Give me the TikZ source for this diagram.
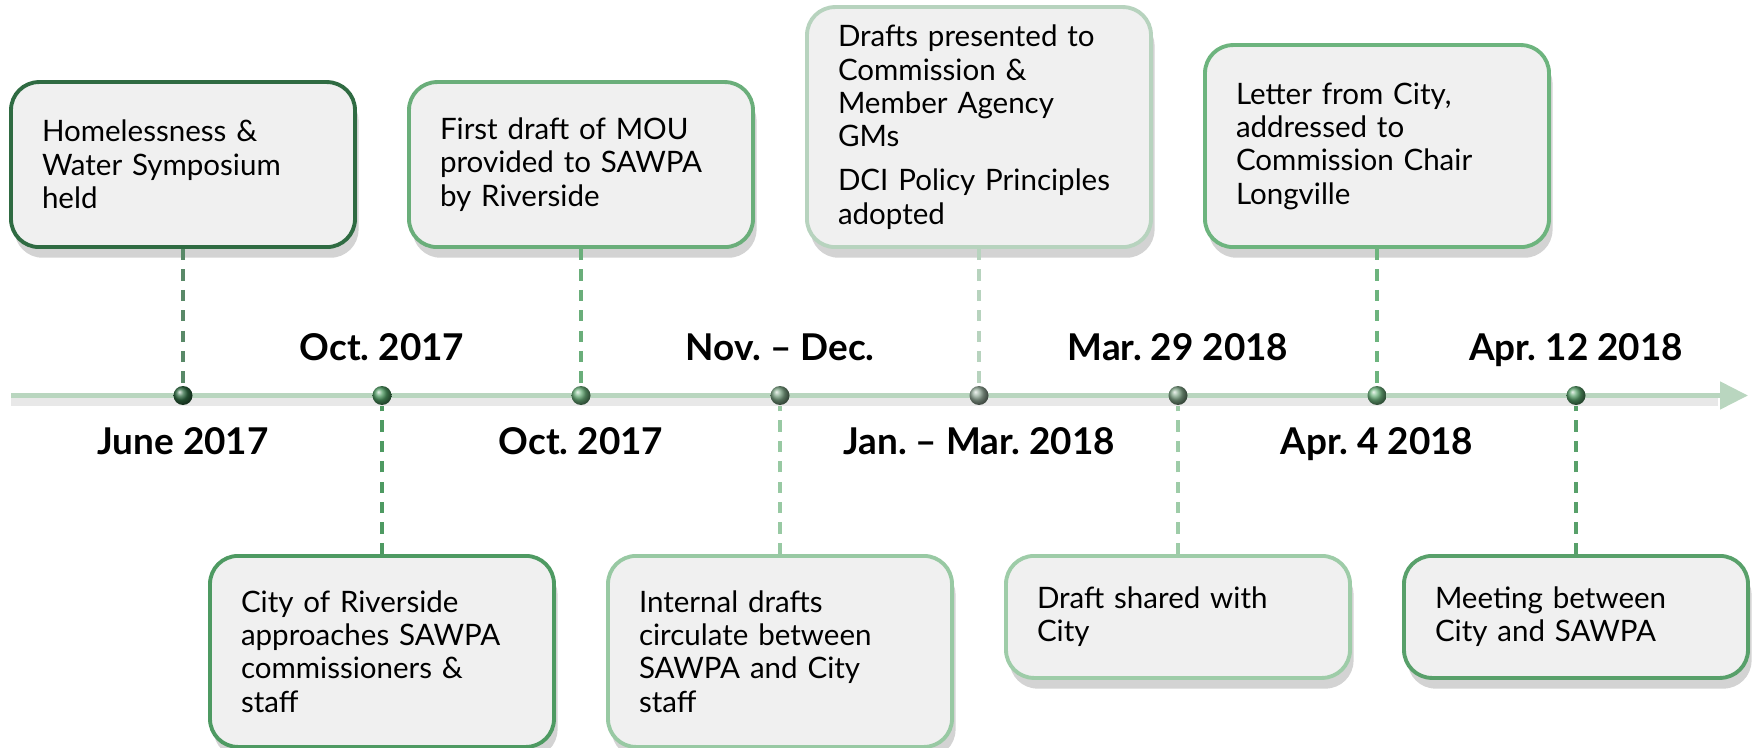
\documentclass[tikz,border=0pt]{standalone}
\usepackage{fontspec}
\setmainfont{Lato}
\usetikzlibrary{
    positioning,   % Relative positioning
    shadows,       % Drop shadows
    arrows.meta    % Modern arrow tips
}
\definecolor{boxgray}{HTML}{F0F0F0}
\definecolor{axisgreen}{HTML}{B9D6BF}
\definecolor{gJune}{HTML}{2F6B42}
\definecolor{gOctA}{HTML}{4E9A62}
\definecolor{gOctB}{HTML}{6AAE7A}
\definecolor{gNov}{HTML}{98C9A3}
\definecolor{gJan}{HTML}{B7D3BE}
\definecolor{gMar}{HTML}{9ECCA8}
\definecolor{gAprA}{HTML}{6DB47E}
\definecolor{gAprB}{HTML}{58A06A}

\tikzset{
    event/.style={draw=#1, line width=1.1pt, fill=boxgray, rounded corners=0.28cm,
        text width=2.82cm, inner xsep=0.31cm, inner ysep=0pt, align=left,
        font=\fontsize{8.4}{9.5}\selectfont,
        drop shadow={shadow xshift=0.2ex, shadow yshift=-0.6ex, opacity=0.35}},
    stem/.style={draw=#1, line width=0.9pt, dash pattern=on 3.2pt off 2.6pt},
    bead/.style={circle, inner sep=0pt, minimum size=0.19cm, ball color=#1},
    datelbl/.style={font=\bfseries\fontsize{10.5}{13}\selectfont, anchor=base}
}

\begin{document}
\frenchspacing
\begin{tikzpicture}
    \useasboundingbox (0,0) rectangle (17.57,7.47);
    % time axis
    \coordinate (start) at (0.11,3.515);
    \coordinate (end) at (17.48,3.515);
    \draw[line width=3pt, black!15, opacity=0.6] ([yshift=-0.05cm]start) -- ([yshift=-0.05cm,xshift=-0.3cm]end);
    \draw[axisgreen, line width=1.4pt, -{Triangle[length=0.28cm,width=0.27cm]}] (start) -- (end);

    % beads on the axis
    \node[bead=gJune] (d1) at (1.83,3.515) {};
    \node[bead=gOctA] (d2) at (3.82,3.515) {};
    \node[bead=gOctB] (d3) at (5.81,3.515) {};
    \node[bead=gNov!80!black] (d4) at (7.80,3.515) {};
    \node[bead=gJan!80!black] (d5) at (9.79,3.515) {};
    \node[bead=gMar!80!black] (d6) at (11.78,3.515) {};
    \node[bead=gAprA] (d7) at (13.77,3.515) {};
    \node[bead=gAprB] (d8) at (15.76,3.515) {};

    % events above
    \node[event=gJune, minimum height=1.65cm, anchor=south] (e1) at (1.83,4.98)
        {Homelessness \&\\ Water Symposium\\ held};
    \node[event=gOctB, minimum height=1.65cm, anchor=south] (e3) at (5.81,4.98)
        {First draft of MOU\\ provided to SAWPA\\ by Riverside};
    \node[event=gJan, minimum height=2.40cm, anchor=south] (e5) at (9.79,4.98)
        {Drafts presented to\\ Commission \&\\ Member Agency\\ GMs\\[3pt] DCI Policy Principles\\ adopted};
    \node[event=gAprA, minimum height=2.02cm, anchor=south] (e7) at (13.77,4.98)
        {Letter from City,\\ addressed to\\ Commission Chair\\ Longville};

    % events below
    \node[event=gOctA, minimum height=1.91cm, anchor=north] (e2) at (3.82,1.93)
        {City of Riverside\\ approaches SAWPA\\ commissioners \&\\ staff};
    \node[event=gNov, minimum height=1.91cm, anchor=north] (e4) at (7.80,1.93)
        {Internal drafts\\ circulate between\\ SAWPA and City\\ staff};
    \node[event=gMar, minimum height=1.22cm, anchor=north] (e6) at (11.78,1.93)
        {Draft shared with\\ City};
    \node[event=gAprB, minimum height=1.22cm, anchor=north] (e8) at (15.76,1.93)
        {Meeting between\\ City and SAWPA};

    % connectors
    \draw[stem=gJune!80] (e1) -- (d1);
    \draw[stem=gOctA] (e2) -- (d2);
    \draw[stem=gOctB] (e3) -- (d3);
    \draw[stem=gNov] (e4) -- (d4);
    \draw[stem=gJan] (e5) -- (d5);
    \draw[stem=gMar] (e6) -- (d6);
    \draw[stem=gAprA] (e7) -- (d7);
    \draw[stem=gAprB] (e8) -- (d8);

    % dates
    \node[datelbl] (t1) at (1.83,2.92) {June 2017};
    \node[datelbl] (t2) at (3.82,3.87) {Oct. 2017};
    \node[datelbl] (t3) at (5.81,2.92) {Oct. 2017};
    \node[datelbl] (t4) at (7.80,3.87) {Nov. -- Dec.};
    \node[datelbl] (t5) at (9.79,2.92) {Jan. -- Mar. 2018};
    \node[datelbl] (t6) at (11.78,3.87) {Mar. 29 2018};
    \node[datelbl] (t7) at (13.77,2.92) {Apr. 4 2018};
    \node[datelbl] (t8) at (15.76,3.87) {Apr. 12 2018};
\end{tikzpicture}
\end{document}
